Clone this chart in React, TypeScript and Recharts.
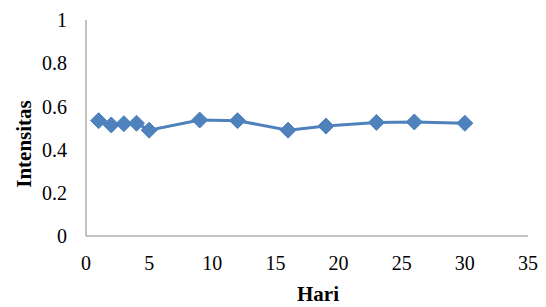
import { LineChart, Line, XAxis, YAxis, Label } from 'recharts';

// hari pengamatan
const days = [1, 2, 3, 4, 5, 9, 12, 16, 19, 23, 26, 30];
// intensitas terukur
const intensity = [0.534, 0.514, 0.52, 0.522, 0.49, 0.537, 0.534, 0.49, 0.509, 0.526, 0.528, 0.522];

const xTicks = [0, 5, 10, 15, 20, 25, 30, 35];
const yTicks = [0, 0.2, 0.4, 0.6, 0.8, 1];

const data = days.map((d, i) => ({ day: d, value: intensity[i] }));

const BLUE = '#4F81BD';
const AXIS = '#868686';
const FONT = 'Liberation Serif, DejaVu Serif, serif';

const Diamond = (props: any) => {
  const { cx, cy } = props;
  if (cx == null || cy == null) return null;
  const r = 8;
  return (
    <path
      d={`M${cx},${cy - r} L${cx + r},${cy} L${cx},${cy + r} L${cx - r},${cy} Z`}
      fill={BLUE}
      stroke={BLUE}
    />
  );
};

// title sits a bit below the plot's middle, as in the original
const YTitle = (props: any) => {
  const { viewBox } = props;
  const cy = viewBox.y + viewBox.height / 2 + 16;
  const cx = 24;
  return (
    <text
      x={cx}
      y={cy}
      transform={`rotate(-90, ${cx}, ${cy})`}
      textAnchor="middle"
      dominantBaseline="central"
      style={{ fontFamily: FONT, fontWeight: 'bold', fontSize: 21, fill: '#000' }}
    >
      Intensitas
    </text>
  );
};

export default function App() {
  return (
    <div style={{ position: 'absolute', left: 0, top: 0, background: '#fff', fontFamily: FONT }}>
      <LineChart
        width={546}
        height={307}
        data={data}
        margin={{ top: 20, right: 18, bottom: 0, left: 0 }}
        style={{ fontFamily: FONT }}
      >
        <XAxis
          type="number"
          dataKey="day"
          domain={[0, 35]}
          ticks={xTicks}
          interval={0}
          tickSize={0}
          tickMargin={20}
          height={71}
          stroke={AXIS}
          tick={{ fill: '#000', fontSize: 20, style: { fontFamily: FONT } }}
        >
          <Label
            value="Hari"
            position="insideBottom"
            offset={6}
            dx={11}
            style={{ fontFamily: FONT, fontWeight: 'bold', fontSize: 21, fill: '#000' }}
          />
        </XAxis>
        <YAxis
          type="number"
          domain={[0, 1]}
          ticks={yTicks}
          interval={0}
          width={86}
          tickSize={0}
          tickMargin={19}
          stroke={AXIS}
          tick={{ fill: '#000', fontSize: 20, style: { fontFamily: FONT } }}
        >
          <Label content={<YTitle />} />
        </YAxis>
        <Line
          type="linear"
          dataKey="value"
          stroke={BLUE}
          strokeWidth={3}
          dot={<Diamond />}
          activeDot={false}
          isAnimationActive={false}
        />
      </LineChart>
    </div>
  );
}
